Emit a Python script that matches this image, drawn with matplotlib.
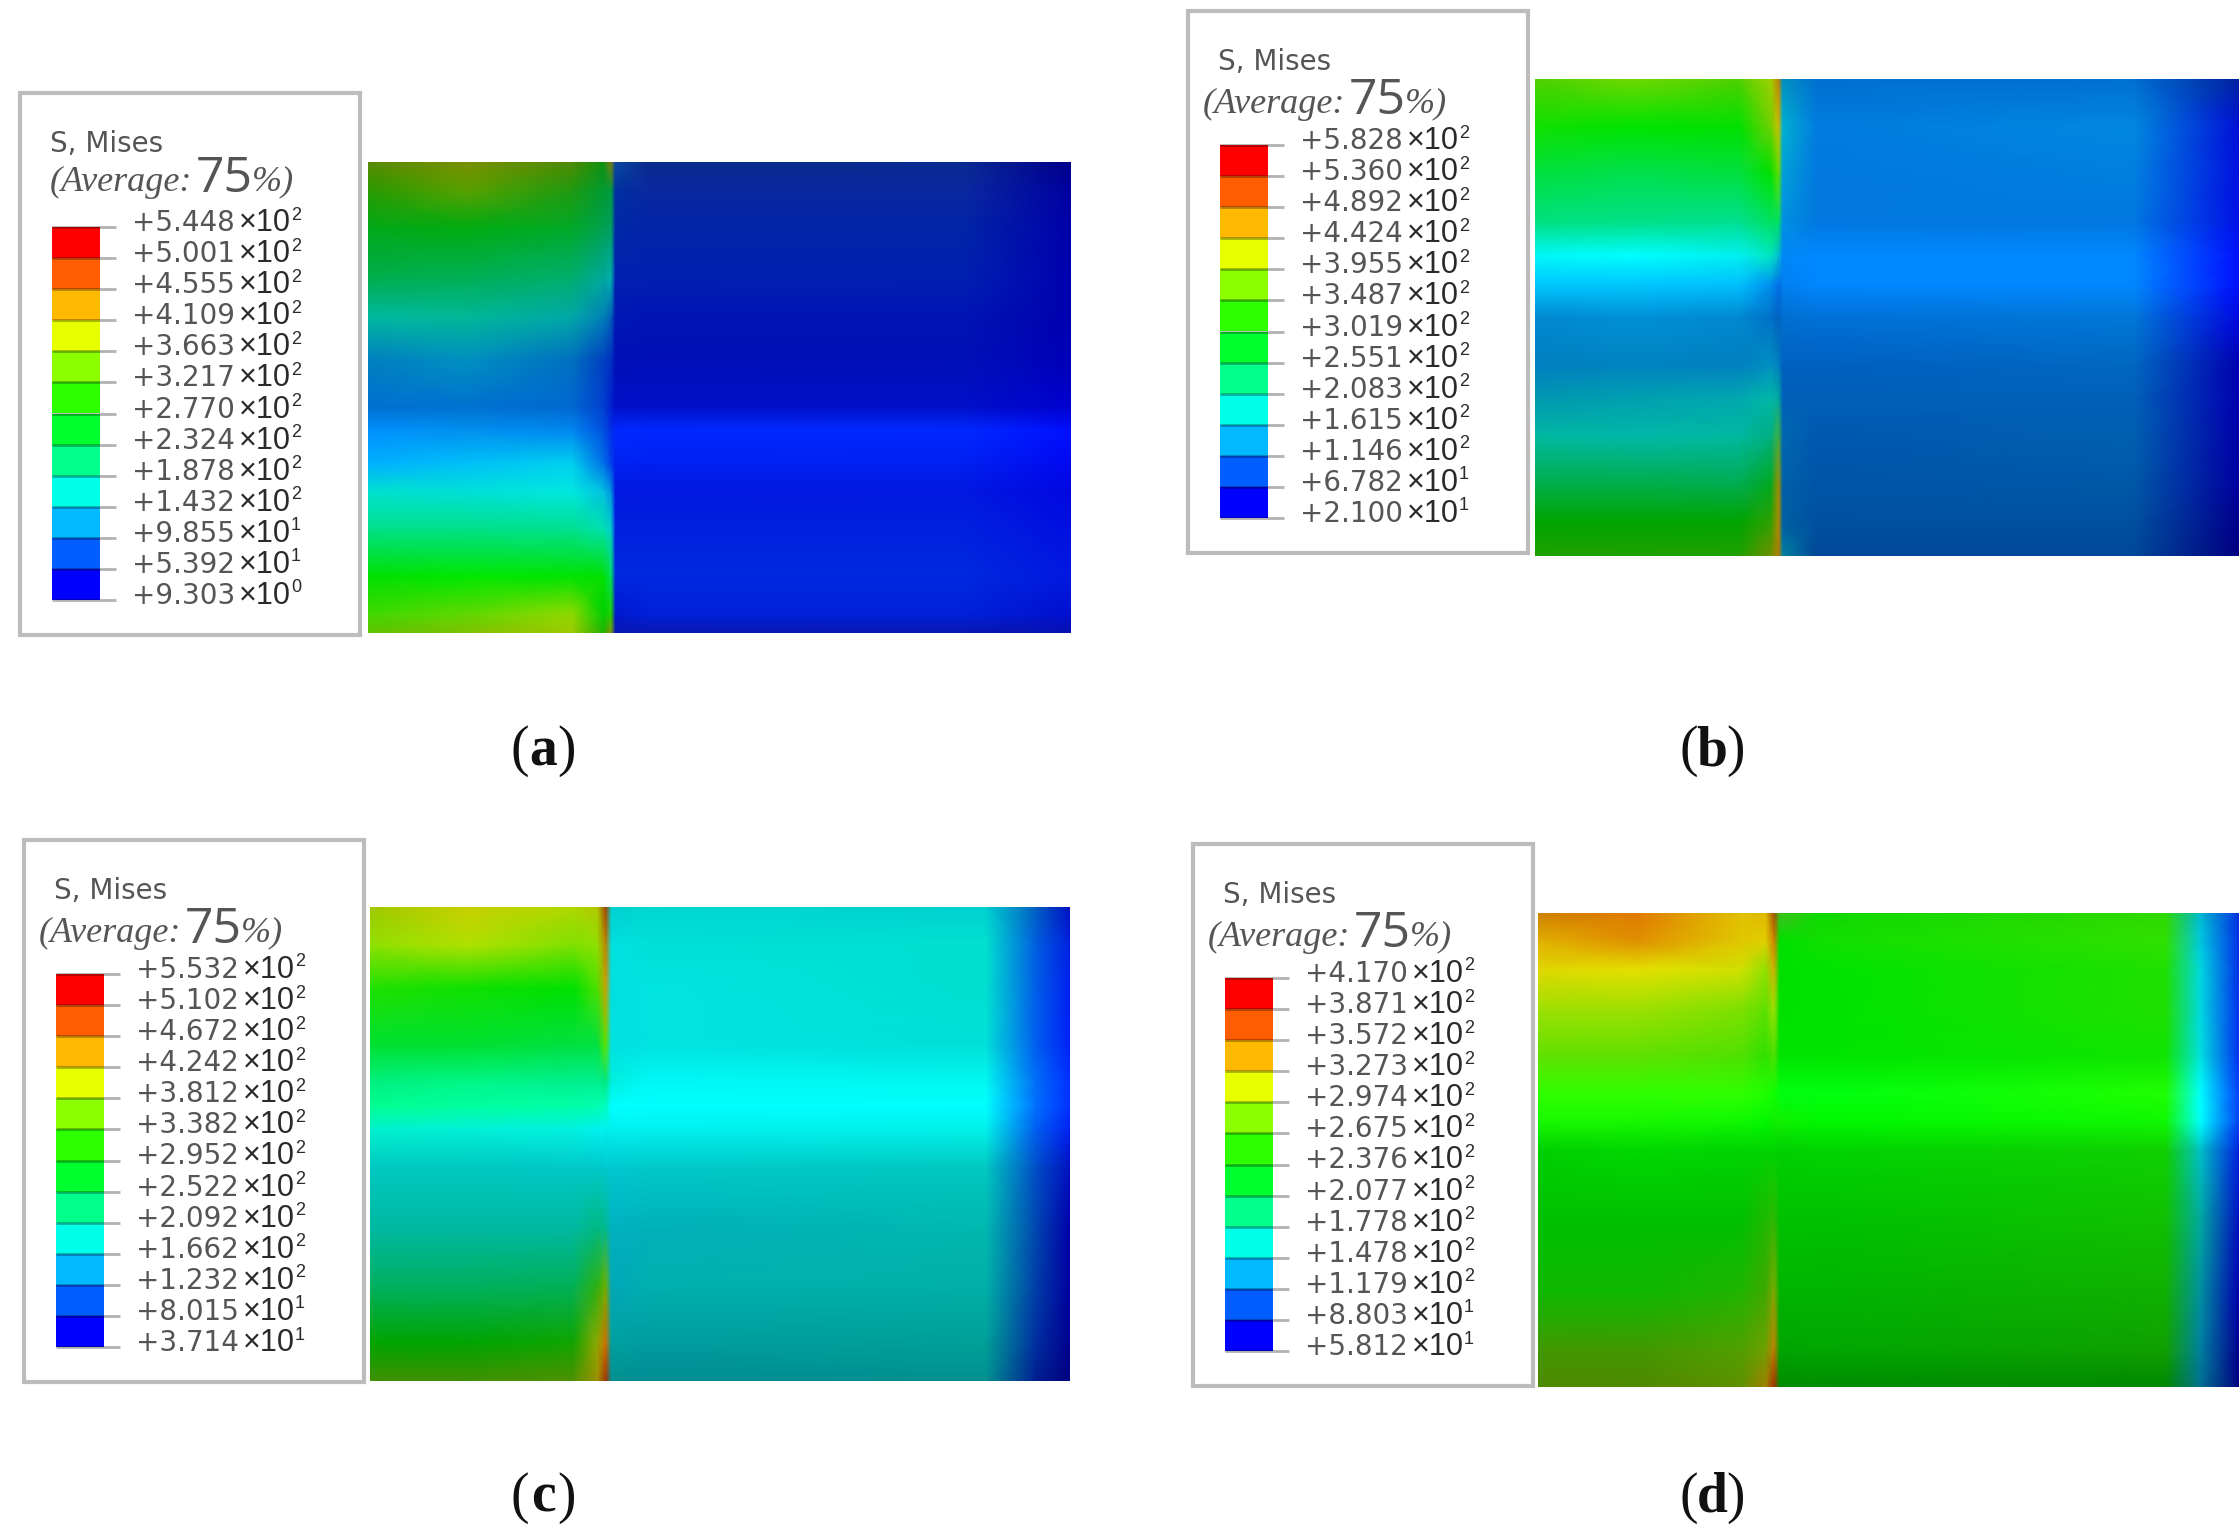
import numpy as np
from matplotlib import pyplot as plt
from matplotlib.colors import to_rgb
from matplotlib.patches import Rectangle

plt.rcParams['font.family'] = ['DejaVu Sans']

W, H = 2240, 1540

# legend labels
vals_a = ["+5.448", "+5.001", "+4.555", "+4.109", "+3.663", "+3.217", "+2.770", "+2.324", "+1.878", "+1.432", "+9.855", "+5.392", "+9.303"]
exps_a = [2, 2, 2, 2, 2, 2, 2, 2, 2, 2, 1, 1, 0]
vals_b = ["+5.828", "+5.360", "+4.892", "+4.424", "+3.955", "+3.487", "+3.019", "+2.551", "+2.083", "+1.615", "+1.146", "+6.782", "+2.100"]
exps_b = [2, 2, 2, 2, 2, 2, 2, 2, 2, 2, 2, 1, 1]
vals_c = ["+5.532", "+5.102", "+4.672", "+4.242", "+3.812", "+3.382", "+2.952", "+2.522", "+2.092", "+1.662", "+1.232", "+8.015", "+3.714"]
exps_c = [2, 2, 2, 2, 2, 2, 2, 2, 2, 2, 2, 1, 1]
vals_d = ["+4.170", "+3.871", "+3.572", "+3.273", "+2.974", "+2.675", "+2.376", "+2.077", "+1.778", "+1.478", "+1.179", "+8.803", "+5.812"]
exps_d = [2, 2, 2, 2, 2, 2, 2, 2, 2, 2, 2, 1, 1]
captions = ["a", "b", "c", "d"]

# the 12 contour bands, top to bottom
band_colors = ["#ff0000", "#ff5d00", "#ffb900", "#e8ff00", "#8bff00", "#2eff00",
               "#00ff2e", "#00ff8b", "#00ffe8", "#00b9ff", "#005dff", "#0000ff"]

# stress field colours: columns across, rows down
x_a = [0, .14, .29, .335, .346, .352, .40, .85, 1]
y_a = [0, .06, .14, .25, .33, .42, .52, .57, .64, .70, .78, .88, .96, 1]
field_a = """
5a8a00 7a9000 4f8a00 109010 807a10 0a4aa0 0a2a8c 0a2a90 00008a
2a9a00 5aa000 209a10 009a30 009a40 0030a0 0a28a0 0a28a0 0000a0
00a818 00ac10 00a828 00a050 00a060 0028a8 0024a8 0024a8 0000a8
00ae50 00b058 00ae70 00a8a0 00b0b0 0020b0 0020b0 0020b0 0000b0
00b8a0 00b898 00a8a8 0080b8 0060b8 0018b4 0014b4 0014b4 0000b0
0080c0 0090c0 0070c0 0040c0 0030c0 0010b8 000fb8 0010b8 0000b8
0070d0 0072d0 0068d0 0040d0 0020d0 0010c8 0010c8 0010c8 0000d0
0090ff 0090f0 0088f0 0050e0 0030e8 0028ff 0028ff 0028ff 0010ff
00b0ff 00c0f8 00d0f0 0070e8 0040e8 0022f0 0020f0 0020f0 0008f0
00e0d0 00e0d8 00e8e0 00c0e0 0090e0 0018e0 0018e0 0018e0 0008e0
00e088 00e088 00e090 00e0b0 00d0d0 0020e0 0020e0 0020e0 0010e0
00e000 00e800 00e400 00e000 00e060 0028e0 0028e0 0028e0 0018e0
40d800 60d800 90d800 00d000 20d000 0018d0 0020d8 0020d8 0010d0
60c000 80c000 a0c800 20b000 8a9010 0818b0 0818b0 0818b0 0810b0
"""

x_b = [0, .14, .29, .335, .346, .352, .40, .85, 1]
y_b = [0, .10, .20, .30, .37, .43, .50, .60, .67, .75, .85, .93, 1]
field_b = """
50d000 70d800 50d000 a0d000 c08000 0090c0 0070d0 0070d0 0020a0
10e000 00e400 00e000 70d000 d0c000 00b0d0 007ce0 0088e0 0010d8
00e040 00e050 00e040 00e000 60e000 00a0d8 0078e0 0080e0 0010e0
00e080 00e088 00e090 00e060 00e060 0090e0 0078e0 0078e0 0010e8
00f8f8 00ffff 00f0f0 00e8c0 00c0d0 0088f8 0088ff 0088ff 0010ff
00c8ff 00c8ff 00c0ff 0090f0 0070e8 0080f0 0088ff 0088ff 0010ff
0088d0 0090d8 0088d0 0070c8 0060c0 0070d0 0070d8 0078d8 0008e0
0080c0 0084c0 0080c0 0090c0 0080c0 0060c0 0060c0 0068c0 0000b0
0098b0 00a0b0 00a8b0 00b8a8 00a8a0 0060b8 0060b8 0060b8 0000b0
00b8a0 00b8a8 00b8a0 00b080 40b040 0068b0 0058b0 0060b0 0000a8
00ae48 00ae48 00ac50 00a820 a09000 0060a8 0054a8 0058a8 0000a0
00a400 00a400 00a400 30a000 b08a00 0060a0 0050a0 0050a0 00008c
20a000 20a000 20a000 709000 b08000 0080a0 004898 004898 000080
"""

x_c = [0, .14, .29, .325, .337, .345, .40, .88, .95, 1]
y_c = [0, .08, .17, .29, .37, .42, .47, .55, .68, .80, .92, 1]
field_c = """
a0c800 c8d000 b0d800 b0c800 a04000 00d0d0 00d8d0 00d0d0 0060c0 0010c0
90e000 b0e000 80e000 90e000 c08000 00e0e0 00e0d8 00e0d0 0060e0 0020e0
20e000 10e000 00e000 50e000 d0a000 00e0e0 00e4e0 00e0d0 0060e8 0020f0
00e030 00e030 00e040 00e040 60e000 00e0e0 00e4e0 00e0d8 0060f0 0020f8
00f080 00f888 00f090 00f090 00e880 00f0e0 00f8f8 00f8f0 0070f8 0030ff
00ff90 00ffa0 00ffa8 00ffb0 00ffc0 00ffff 00ffff 00ffff 0070ff 0030ff
00f0d0 00f0d8 00f0e0 00f0f0 00f0f0 00f0f0 00f0f0 00f0e8 0060f0 0020f0
00c8c0 00c8c0 00c8c8 00c8c8 00c8d0 00c8d0 00c8c8 00c8c0 0050c8 0010c0
00b8a0 00b8a0 00b8a0 00b880 00b890 00b0c0 00b0b8 00b8b0 0048b0 0000a8
00b060 00b060 00b058 30b010 70b000 00a8b8 00b0b0 00b0a8 0040a8 0000a0
00a400 00a400 10a400 90a800 d07000 00a0a0 009ca0 00a098 0030a0 000090
409000 409000 509000 a09000 a03000 009090 008c94 009090 002090 000080
"""

x_d = [0, .14, .29, .325, .337, .345, .40, .895, .945, 1]
y_d = [0, .06, .12, .20, .30, .38, .44, .50, .65, .80, .92, 1]
field_d = """
d08000 e07a00 e0c000 e0b800 a05000 40c020 10d800 30d800 00b8d0 0030e0
e0b000 e09000 e0c800 e0d000 d08000 00e000 10e000 30e000 00c8e0 0030e8
e0d800 e4e000 d0e000 90e000 d0b000 00e000 00e400 20e000 00d8e0 0030e8
a0e000 a0e000 80e000 60e000 a0e000 00e000 00e400 20e000 00d8e0 0030f0
60e000 60e000 50e000 30e000 50e000 00e400 00e400 10e400 00e0e0 0030f0
30ff00 30ff00 30ff00 20ff00 10ff00 00ff10 00ff10 20ff00 00ffff 0040ff
18f800 18f800 10f800 00f800 10f000 10f000 00f800 10f800 00ffff 0040f8
00d000 00d800 00d400 00d400 00d400 00d000 00d400 10d000 00c0c8 0020e0
00c000 00c000 00c000 20b800 30b800 00c000 00c000 10c000 00a8a0 0010c0
10b800 10b800 20b400 40a800 80a800 00b400 00b400 10b000 0090a0 0000b0
409800 409800 50a000 70a000 c08000 00a400 00a800 10a000 0080a0 000090
508800 508800 609000 a08000 a03000 008c00 008c00 008800 007090 000080
"""

# where things sit on the page, in pixels
box_xy = [(20, 93), (1188, 11), (24, 840), (1193, 844)]
field_box = [(368, 162, 1071, 633), (1535, 79, 2239, 556), (370, 907, 1070, 1381), (1538, 913, 2239, 1387)]
avg_off = [(30, 89), (15, 93), (15, 93), (15, 93)]
caption_xy = [(543, 751), (1712, 751), (543, 1498), (1712, 1498)]

grey = "#555555"
dark = "#2a2a2a"


def parse_field(txt):
    rows = [r.split() for r in txt.strip().splitlines()]
    return np.array([[to_rgb("#" + c) for c in r] for r in rows])


fig = plt.figure(figsize=(W / 100, H / 100), dpi=100)
ax = fig.add_axes([0, 0, 1, 1])
ax.set_xlim(0, W)
ax.set_ylim(H, 0)
ax.axis('off')

panels = [(vals_a, exps_a, x_a, y_a, field_a), (vals_b, exps_b, x_b, y_b, field_b),
          (vals_c, exps_c, x_c, y_c, field_c), (vals_d, exps_d, x_d, y_d, field_d)]

for i, (vals, exps, xs, ys, field) in enumerate(panels):
    # contour picture
    x0, y0, x1, y1 = field_box[i]
    fax = fig.add_axes([x0 / W, 1 - y1 / H, (x1 - x0) / W, (y1 - y0) / H])
    fax.pcolormesh(xs, ys, parse_field(field), shading='gouraud')
    fax.set_xlim(0, 1)
    fax.set_ylim(1, 0)
    fax.axis('off')

    # legend box
    bx, by = box_xy[i]
    ax.add_patch(Rectangle((bx, by), 340, 542, fc='white', ec='#bcbcbc', lw=3))
    ax.text(bx + 30, by + 51, "S, Mises", fontsize=20, color=grey, va='center', fontweight='medium')

    ax_, ay_ = avg_off[i]
    ax.text(bx + ax_, by + ay_, "(Average:", fontsize=26, color=grey, va='center',
            family='Liberation Serif', style='italic')
    ax.text(bx + ax_ + 146, by + ay_ - 3, "75", fontsize=36, color=grey, va='center', family='Open Sans')
    ax.text(bx + ax_ + 202, by + ay_, "%)", fontsize=26, color=grey, va='center',
            family='Liberation Serif', style='italic')

    # colour bar and its labels
    top, step = by + 134, 373 / 12
    for k, c in enumerate(band_colors):
        ax.add_patch(Rectangle((bx + 32, top + k * step), 48, step, fc=c, ec='none'))
    for k in range(13):
        ty = top + k * step
        ax.plot([bx + 32, bx + 96], [ty, ty], color='#000000', alpha=.3, lw=2, solid_capstyle='butt')
        ly = ty - 4
        ax.text(bx + 112, ly, vals[k], fontsize=20, color=grey, va='center')
        ax.text(bx + 219, ly, "×10", fontsize=22, color=dark, va='center', family='Liberation Sans')
        ax.text(bx + 271, ly - 8, str(exps[k]), fontsize=13, color=dark, va='center', family='Liberation Sans')

    cx, cy = caption_xy[i]
    ax.text(cx - 14, cy, "(", fontsize=40, family='Liberation Serif', ha='right', va='center', color='#111111')
    ax.text(cx, cy, captions[i], fontsize=40, family='Liberation Serif', fontweight='bold', ha='center',
            va='center', color='#111111')
    ax.text(cx + 14, cy, ")", fontsize=40, family='Liberation Serif', ha='left', va='center', color='#111111')

fig.savefig("out.png", dpi=100, facecolor='white')
